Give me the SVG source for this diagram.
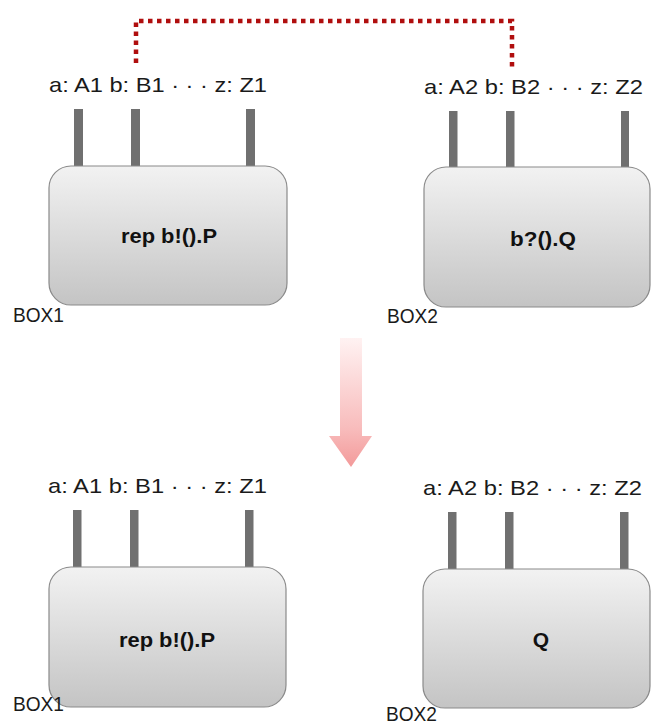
<svg xmlns="http://www.w3.org/2000/svg" width="652" height="724" viewBox="0 0 652 724">
<defs>
<linearGradient id="boxg" x1="0" y1="0" x2="0" y2="1">
<stop offset="0" stop-color="#f2f2f2"/>
<stop offset="1" stop-color="#c4c4c4"/>
</linearGradient>
<linearGradient id="arrg" x1="0" y1="0" x2="0" y2="1">
<stop offset="0" stop-color="#fff2f2"/>
<stop offset="0.7" stop-color="#f8bcbc"/>
<stop offset="1" stop-color="#f39a9a"/>
</linearGradient>
<style>
.box{fill:url(#boxg);stroke:#8a8a8a;stroke-width:1.2}
.pin{fill:#707070}
.lbl{font-family:"Liberation Sans",Arial,sans-serif;font-size:21px;fill:#1a1a1a}
.main{font-family:"Liberation Sans",Arial,sans-serif;font-size:21px;font-weight:bold;fill:#111;text-anchor:middle}
.link{fill:none;stroke:#b00e0e;stroke-width:4.5;stroke-dasharray:4.5 4.5}
</style>
</defs>

<g id="connectors">
<path class="link" d="M136,63 L136,21 L512,21 L512,67"/>
<path id="transition-arrow" d="M340,338 L362,338 L362,436 L372,436 L351,467 L329,436 L340,436 Z" fill="url(#arrg)"/>
</g>

<g id="box1-top">
<text class="lbl" x="49" y="92" textLength="218" lengthAdjust="spacingAndGlyphs">a: A1 b: B1  ·  ·  · z: Z1</text>
<rect class="pin" x="74" y="109" width="9" height="58"/>
<rect class="pin" x="131" y="109" width="9" height="58"/>
<rect class="pin" x="246" y="109" width="9" height="58"/>
<rect class="box" x="49" y="166" width="238" height="139" rx="22" ry="22"/>
<text class="main" x="169" y="243" textLength="96" lengthAdjust="spacingAndGlyphs">rep b!().P</text>
<text class="lbl" x="13" y="322" textLength="51" lengthAdjust="spacingAndGlyphs">BOX1</text>
</g>

<g id="box2-top">
<text class="lbl" x="424" y="94" textLength="219" lengthAdjust="spacingAndGlyphs">a: A2 b: B2  ·  ·  · z: Z2</text>
<rect class="pin" x="449" y="111" width="8.5" height="57"/>
<rect class="pin" x="506" y="111" width="8.5" height="57"/>
<rect class="pin" x="621" y="111" width="8" height="57"/>
<rect class="box" x="424" y="167" width="226" height="140" rx="22" ry="22"/>
<text class="main" x="543" y="246" textLength="66" lengthAdjust="spacingAndGlyphs">b?().Q</text>
<text class="lbl" x="387" y="323" textLength="51" lengthAdjust="spacingAndGlyphs">BOX2</text>
</g>

<g id="box1-bottom">
<text class="lbl" x="48" y="493" textLength="219" lengthAdjust="spacingAndGlyphs">a: A1 b: B1  ·  ·  · z: Z1</text>
<rect class="pin" x="73" y="510" width="8.5" height="58"/>
<rect class="pin" x="130" y="510" width="8.5" height="58"/>
<rect class="pin" x="245" y="510" width="8.5" height="58"/>
<rect class="box" x="49" y="567" width="237" height="140" rx="22" ry="22"/>
<text class="main" x="167" y="647" textLength="96" lengthAdjust="spacingAndGlyphs">rep b!().P</text>
<text class="lbl" x="13" y="711" textLength="51" lengthAdjust="spacingAndGlyphs">BOX1</text>
</g>

<g id="box2-bottom">
<text class="lbl" x="423" y="495" textLength="219" lengthAdjust="spacingAndGlyphs">a: A2 b: B2  ·  ·  · z: Z2</text>
<rect class="pin" x="448" y="512" width="8.5" height="58"/>
<rect class="pin" x="505" y="512" width="8.5" height="58"/>
<rect class="pin" x="620" y="512" width="8.5" height="58"/>
<rect class="box" x="423" y="569" width="227" height="139" rx="22" ry="22"/>
<text class="main" x="541" y="647">Q</text>
<text class="lbl" x="386" y="721" textLength="51" lengthAdjust="spacingAndGlyphs">BOX2</text>
</g>
</svg>
